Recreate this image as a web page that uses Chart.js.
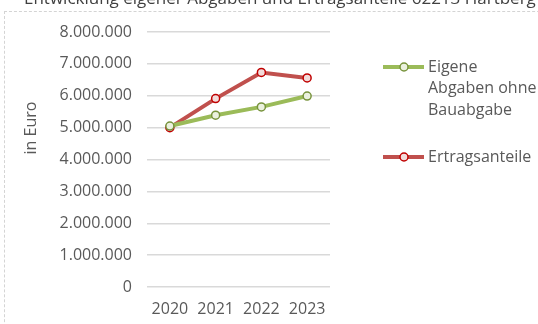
<!DOCTYPE html>
<html>
<head>
<meta charset="utf-8">
<script src="https://cdn.jsdelivr.net/npm/chart.js@4.4.0/dist/chart.umd.min.js"></script>
<style>
  html, body { margin: 0; padding: 0; background: #fff; overflow: hidden; }
  #wrap { position: relative; width: 538px; height: 324px; }
  #frame { position: absolute; left: 4px; top: 11px; width: 560px; height: 340px;
           border-top: 1px dashed #d4d4d4; border-left: 1px dashed #d4d4d4; }
  canvas { position: absolute; left: 0; top: 0; }
</style>
</head>
<body>
<div id="wrap">
  <div id="frame"></div>
  <canvas id="chart" width="538" height="324"></canvas>
</div>
<script>
const chartTitle = 'Entwicklung eigener Abgaben und Ertragsanteile 62213 Hartberg';
const axisTitle = 'in Euro';
const years = ['2020', '2021', '2022', '2023'];
const eigeneAbgaben = [5050000, 5390000, 5650000, 5990000];
const ertragsanteile = [5000000, 5910000, 6730000, 6560000];

const FONT = '"Open Sans", sans-serif';
const TEXT = '#595959';

// Titel oben (abgeschnitten) und y-Achsentitel
const textPlugin = {
  id: 'texts',
  afterDraw(chart) {
    const c = chart.ctx;
    c.save();
    c.fillStyle = '#404040';
    c.font = '17px ' + FONT;
    c.textBaseline = 'alphabetic';
    c.textAlign = 'left';
    c.fillText(chartTitle, 24, 4);
    c.fillStyle = TEXT;
    c.font = '16px ' + FONT;
    c.translate(31, 128);
    c.rotate(-Math.PI / 2);
    c.textAlign = 'center';
    c.textBaseline = 'middle';
    c.fillText(axisTitle, 0, 0);
    c.restore();
  }
};

// Legende rechts mit Zeilenumbruch
const legendPlugin = {
  id: 'sideLegend',
  afterDraw(chart) {
    const c = chart.ctx;
    const rows = [67, 157];
    c.save();
    c.font = '16px ' + FONT;
    chart.data.datasets.forEach((ds, i) => {
      const y = rows[i];
      c.strokeStyle = ds.borderColor;
      c.lineWidth = ds.borderWidth;
      c.beginPath();
      c.moveTo(383, y);
      c.lineTo(424, y);
      c.stroke();
      c.beginPath();
      c.arc(404, y, 4, 0, Math.PI * 2);
      c.fillStyle = ds.pointBackgroundColor;
      c.fill();
      c.lineWidth = ds.pointBorderWidth;
      c.strokeStyle = ds.pointBorderColor;
      c.stroke();
      // Umbruch
      const words = ds.label.split(' ');
      const lines = [];
      let cur = '';
      words.forEach(w => {
        const t = cur ? cur + ' ' + w : w;
        if (c.measureText(t).width > 112 && cur) { lines.push(cur); cur = w; }
        else cur = t;
      });
      lines.push(cur);
      c.fillStyle = TEXT;
      c.textBaseline = 'middle';
      c.textAlign = 'left';
      lines.forEach((l, k) => c.fillText(l, 428, y + k * 21.5));
    });
    c.restore();
  }
};

new Chart(document.getElementById('chart'), {
  type: 'line',
  data: {
    labels: years,
    datasets: [{
      label: 'Eigene Abgaben ohne Bauabgabe',
      data: eigeneAbgaben,
      borderColor: '#9bbb59',
      borderWidth: 4,
      pointRadius: 4,
      pointBorderWidth: 1.5,
      pointBackgroundColor: '#ebf1de',
      pointBorderColor: '#77933c',
      tension: 0
    }, {
      label: 'Ertragsanteile',
      data: ertragsanteile,
      borderColor: '#c0504d',
      borderWidth: 4,
      pointRadius: 4,
      pointBorderWidth: 1.5,
      pointBackgroundColor: '#f2dcdb',
      pointBorderColor: '#c00000',
      tension: 0
    }]
  },
  options: {
    responsive: false,
    animation: false,
    layout: { padding: { top: 32, right: 208, bottom: 0, left: 0 } },
    plugins: {
      legend: { display: false },
      title: { display: false },
      tooltip: { enabled: false }
    },
    scales: {
      x: {
        offset: true,
        afterFit(scale) { scale.height = 37; },
        grid: { display: false, drawTicks: false },
        border: { display: false },
        ticks: { color: TEXT, font: { family: FONT, size: 16 }, padding: 13, maxRotation: 0, minRotation: 0 }
      },
      y: {
        min: 0,
        max: 8000000,
        afterFit(scale) { scale.width = 147; },
        grid: { color: '#d9d9d9', lineWidth: 1.5, drawTicks: false },
        border: { display: false },
        ticks: {
          stepSize: 1000000,
          padding: 15,
          color: TEXT,
          font: { family: FONT, size: 16 },
          callback: v => v.toLocaleString('de-DE')
        }
      }
    }
  },
  plugins: [textPlugin, legendPlugin]
});
</script>
</body>
</html>
